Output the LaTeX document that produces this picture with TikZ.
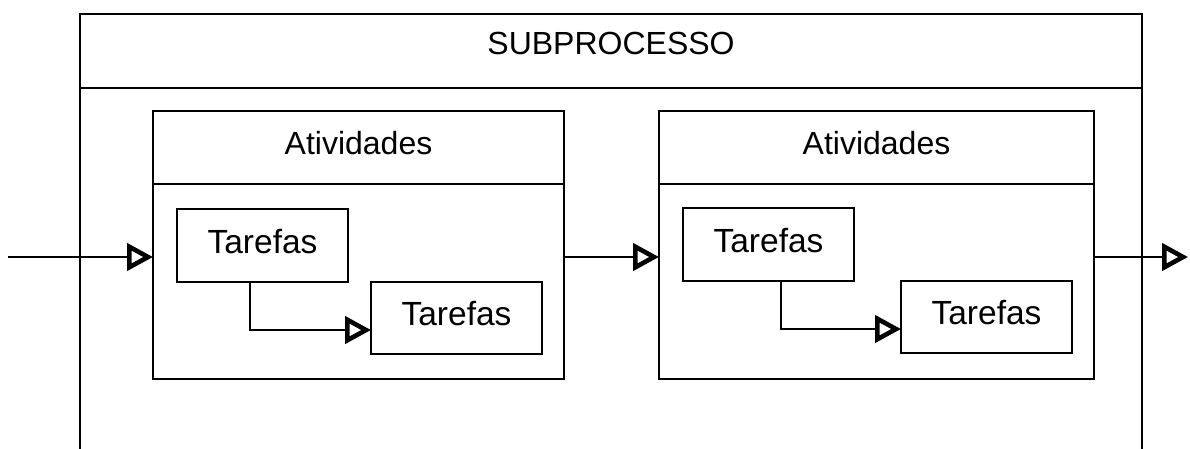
\documentclass[tikz,border=0pt]{standalone}
\usepackage{fontspec}
\setmainfont{Liberation Sans}
\usetikzlibrary{arrows.meta}
\tikzset{
  box/.style={draw, line width=2.8pt, inner sep=0pt, outer sep=0pt, anchor=north west, align=center},
  header/.style={box, font=\fontsize{32}{36}\selectfont, text depth=9pt},
  task/.style={box, font=\fontsize{33.5}{38}\selectfont, minimum width=171pt, minimum height=73pt, text depth=9pt},
  flow/.style={line width=2.6pt, -{Triangle[open, length=26pt, width=27pt, line width=4.6pt]}},
  link/.style={line width=2.6pt}
}
\begin{document}
\begin{tikzpicture}[x=1pt, y=-1pt]
  \useasboundingbox (0,0) rectangle (1190,448);

  % outer subprocess frame, open at the bottom
  \coordinate (obl) at (80,452);
  \coordinate (otl) at (80,14);
  \coordinate (otr) at (1142,14);
  \coordinate (obr) at (1142,452);
  \draw[link] (obl) -- (otl) -- (otr) -- (obr);
  \coordinate (hl) at (80,88);
  \coordinate (hr) at (1142,88);
  \draw[link] (hl) -- (hr);
  \node[font=\fontsize{32}{36}\selectfont, anchor=base] (title) at (611,54) {SUBPROCESSO};

  % first activity
  \node[header, minimum width=411pt, minimum height=73pt] (a1h) at (153,111) {Atividades};
  \node[box, minimum width=411pt, minimum height=195pt] (a1) at (a1h.south west) {};
  \node[task] (t11) at (177,209) {Tarefas};
  \node[task, minimum height=72pt] (t12) at (371,282) {Tarefas};

  % second activity
  \node[header, minimum width=435pt, minimum height=73pt] (a2h) at (659,111) {Atividades};
  \node[box, minimum width=435pt, minimum height=195pt] (a2) at (a2h.south west) {};
  \node[task] (t21) at (683,208) {Tarefas};
  \node[task, minimum height=72pt] (t22) at (901,281) {Tarefas};

  % main flow
  \coordinate (in) at (8,257);
  \coordinate (out) at (1188,257);
  \draw[flow] (in) -- (in -| a1.west);
  \draw[flow] (in -| a1.east) -- (in -| a2.west);
  \draw[flow] (in -| a2.east) -- (out);

  % task hand-offs
  \coordinate (e1) at (250,330);
  \coordinate (e2) at (781,329);
  \draw[flow] (e1 |- t11.south) |- (e1 -| t12.west);
  \draw[flow] (e2 |- t21.south) |- (e2 -| t22.west);
\end{tikzpicture}
\end{document}
